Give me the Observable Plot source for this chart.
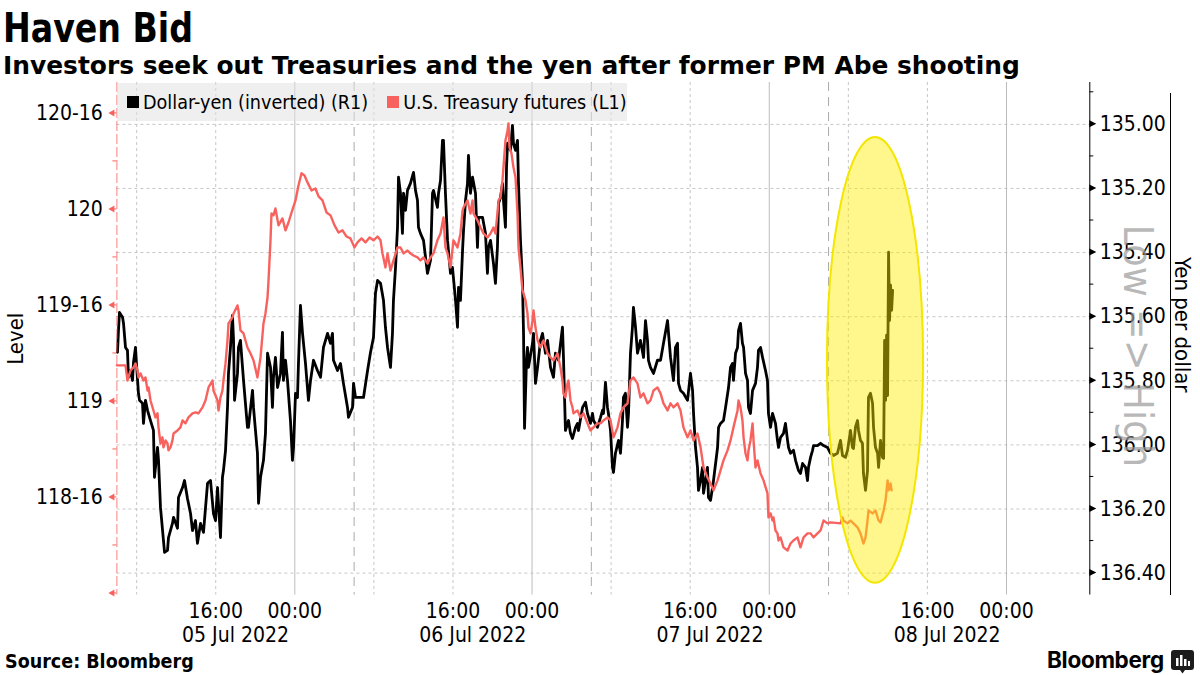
<!DOCTYPE html>
<html>
<head>
<meta charset="utf-8">
<script src="https://cdn.jsdelivr.net/npm/d3@7"></script>
<script src="https://cdn.jsdelivr.net/npm/@observablehq/plot@0.6"></script>
<style>
  html, body { margin: 0; padding: 0; background: #fff; }
  body { width: 1200px; height: 675px; overflow: hidden; position: relative;
         font-family: "DejaVu Sans Condensed", "DejaVu Sans", sans-serif; color: #000; }
  #title { position: absolute; left: 3px; top: 6px; font-weight: bold; font-size: 41px; line-height: 44px;
           transform: scaleX(0.9); transform-origin: left top;
           font-family: "DejaVu Sans Condensed", "DejaVu Sans", sans-serif; white-space: nowrap; }
  #subtitle { position: absolute; left: 3px; top: 52px; font-weight: bold; font-size: 24.9px; line-height: 28px;
              font-family: "DejaVu Sans", sans-serif; white-space: nowrap; }
  #chart { position: absolute; left: 0; top: 78px; }
  #legend { position: absolute; left: 117px; top: 83px; width: 510px; height: 38px; background: rgba(225,225,225,0.55);
            display: flex; align-items: center; font-size: 19.6px; white-space: nowrap; }
  #legend .sw { display: inline-block; width: 12px; height: 12px; margin-right: 4px; }
  #legend .item { display: flex; align-items: center; margin-left: 10px; margin-right: 9px; }
  #source { position: absolute; left: 5px; top: 651px; font-weight: bold; font-size: 19.5px; line-height: 22px; }
  #logo { position: absolute; left: 1047px; top: 645px; font-family: Inter, Roboto, sans-serif; font-weight: 700;
          font-size: 22.5px; line-height: 30px; letter-spacing: -0.3px; }
  #logoicon { position: absolute; left: 1171px; top: 650px; }
</style>
</head>
<body>
<div id="title">Haven Bid</div>
<div id="subtitle">Investors seek out Treasuries and the yen after former PM Abe shooting</div>
<div id="chart"></div>
<div id="legend"></div>
<div id="source">Source: Bloomberg</div>
<div id="logo">Bloomberg</div>
<svg id="logoicon" width="23" height="24" viewBox="0 0 23 24">
  <path d="M3,0h17a3,3 0 0 1 3,3v14a3,3 0 0 1 -3,3h-6l-2.5,3.5l-2.5,-3.5h-6a3,3 0 0 1 -3,-3v-14a3,3 0 0 1 3,-3z" fill="#1c1c1c"/>
  <rect x="5" y="8" width="2.5" height="8" fill="#fff"/>
  <rect x="9" y="5" width="2.5" height="11" fill="#fff"/>
  <rect x="13" y="9" width="2.5" height="7" fill="#fff"/>
  <rect x="17" y="11" width="2" height="5" fill="#fff"/>
</svg>
<script>
// ---------------- DATA ----------------
// times are hours since 05 Jul 2022 00:00 (chart's local time)
const seriesNames = ["Dollar-yen (inverted) (R1)", "U.S. Treasury futures (L1)"];
const seriesColors = ["#000000", "#f8625e"];

// Dollar-yen, yen per dollar  [hour, value]
const yenSeries = [[6.06,135.711],[6.16,135.643],[6.26,135.587],[6.57,135.602],[6.67,135.621],[6.87,135.696],[7.07,135.705],[7.17,135.789],[7.38,135.768],[7.58,135.799],[7.68,135.743],[7.88,135.696],[7.98,135.746],[8.18,135.839],[8.29,135.861],[8.59,135.870],[8.69,135.933],[8.89,135.861],[9.10,135.892],[9.40,135.924],[9.70,135.955],[9.80,136.101],[10.11,136.008],[10.21,136.048],[10.41,136.195],[10.71,136.298],[10.82,136.335],[11.12,136.329],[11.22,136.289],[11.62,136.245],[11.73,136.226],[12.13,136.260],[12.23,136.164],[12.64,136.133],[12.84,136.111],[13.14,136.167],[13.45,136.214],[13.65,136.267],[13.95,136.236],[14.15,136.307],[14.46,136.245],[14.76,136.273],[15.17,136.120],[15.47,136.111],[15.77,136.214],[15.98,136.236],[16.18,136.133],[16.48,136.289],[16.68,136.101],[16.78,136.080],[16.99,136.017],[17.19,135.883],[17.29,135.777],[17.49,135.696],[17.69,135.596],[17.80,135.674],[17.90,135.861],[18.20,135.777],[18.30,135.696],[18.50,135.674],[18.71,135.758],[18.81,135.799],[19.21,135.945],[19.31,135.945],[19.72,135.830],[19.82,135.883],[20.02,135.955],[20.22,136.026],[20.33,136.182],[20.53,136.101],[20.83,136.048],[21.03,135.964],[21.24,135.714],[21.54,135.758],[21.74,135.883],[21.84,135.789],[22.04,135.727],[22.25,135.821],[22.55,135.777],[22.75,135.649],[22.85,135.799],[23.06,135.736],[23.26,135.799],[23.56,135.924],[23.76,136.048],[23.87,136.008],[24.07,135.839],[24.27,135.852],[24.37,135.746],[24.57,135.565],[24.78,135.652],[25.08,135.746],[25.38,135.861],[25.59,135.799],[25.89,135.736],[26.29,135.768],[26.60,135.789],[26.90,135.696],[27.31,135.652],[27.61,135.683],[27.81,135.652],[27.91,135.736],[28.32,135.768],[28.62,135.746],[28.92,135.808],[29.33,135.883],[29.43,135.914],[29.84,135.883],[29.94,135.808],[30.14,135.852],[30.95,135.852],[31.36,135.768],[31.66,135.711],[31.96,135.665],[32.16,135.527],[32.37,135.487],[32.67,135.496],[32.97,135.549],[33.17,135.633],[33.38,135.696],[33.68,135.758],[33.88,135.652],[33.98,135.549],[34.19,135.446],[34.39,135.321],[34.49,135.165],[34.69,135.215],[34.89,135.340],[35.00,135.215],[35.20,135.268],[35.40,135.206],[35.70,135.184],[36.01,135.150],[36.21,135.206],[36.41,135.237],[36.51,135.321],[36.71,135.340],[37.02,135.362],[37.42,135.465],[37.73,135.424],[37.93,135.215],[38.03,135.206],[38.43,135.259],[38.54,135.215],[38.74,135.175],[38.94,135.050],[39.04,135.050],[39.24,135.215],[39.45,135.362],[39.75,135.465],[39.95,135.446],[40.26,135.549],[40.46,135.633],[40.56,135.509],[40.76,135.549],[40.97,135.393],[41.07,135.331],[41.27,135.237],[41.47,135.184],[41.57,135.097],[41.77,135.215],[41.98,135.165],[42.28,135.215],[42.48,135.384],[42.58,135.290],[42.99,135.290],[43.29,135.340],[43.49,135.465],[43.59,135.384],[43.80,135.362],[44.10,135.434],[44.30,135.496],[44.50,135.384],[44.61,135.246],[44.81,135.228],[45.01,135.184],[45.11,135.237],[45.31,135.321],[45.42,135.134],[45.52,135.059],[45.82,135.081],[46.02,135.003],[46.12,135.059],[46.33,135.081],[46.53,135.050],[46.63,135.184],[46.83,135.362],[47.03,135.487],[47.14,135.652],[47.24,135.948],[47.44,135.736],[47.54,135.696],[47.64,135.758],[48.05,135.683],[48.15,135.652],[48.35,135.808],[48.56,135.758],[48.86,135.674],[49.06,135.652],[49.16,135.674],[49.36,135.714],[49.57,135.674],[49.87,135.758],[50.17,135.789],[50.37,135.714],[50.68,135.736],[51.08,135.633],[51.18,135.727],[51.38,135.955],[51.69,135.924],[51.89,135.964],[52.09,135.980],[52.40,135.945],[52.60,135.933],[52.70,135.955],[53.11,135.883],[53.41,135.867],[53.61,135.902],[53.91,135.933],[54.12,135.902],[54.22,135.924],[54.62,135.945],[54.93,135.914],[55.13,135.892],[55.23,135.902],[55.43,135.805],[55.63,135.883],[55.73,135.902],[55.94,135.955],[56.14,136.070],[56.24,136.086],[56.44,136.026],[56.75,135.986],[56.95,136.026],[57.15,135.924],[57.25,135.852],[57.45,135.839],[57.66,135.945],[57.76,135.902],[57.96,135.714],[58.16,135.633],[58.26,135.571],[58.47,135.633],[58.67,135.714],[58.97,135.674],[59.28,135.727],[59.48,135.612],[59.68,135.674],[59.78,135.736],[59.98,135.758],[60.29,135.777],[60.69,135.736],[61.00,135.736],[61.30,135.683],[61.71,135.612],[61.81,135.652],[62.01,135.727],[62.31,135.799],[62.51,135.696],[62.72,135.683],[62.82,135.808],[63.02,135.830],[63.32,135.839],[63.73,135.861],[64.03,135.777],[64.24,135.830],[64.34,135.902],[64.54,136.008],[64.74,136.070],[64.84,136.142],[65.05,136.111],[65.25,136.070],[65.35,136.151],[65.55,136.111],[65.75,136.070],[65.85,136.164],[66.06,136.173],[66.26,136.133],[66.36,136.111],[66.77,136.008],[66.87,135.945],[67.07,135.933],[67.37,135.924],[67.58,135.883],[67.88,135.821],[68.08,135.758],[68.28,135.746],[68.38,135.799],[68.59,135.714],[68.79,135.696],[68.89,135.643],[69.09,135.621],[69.29,135.683],[69.40,135.696],[69.60,135.777],[69.80,135.799],[69.90,135.883],[70.10,135.902],[70.31,135.830],[70.61,135.808],[70.81,135.758],[70.91,135.705],[71.12,135.696],[71.32,135.727],[71.62,135.768],[71.82,135.799],[71.92,135.902],[72.13,135.945],[72.33,135.902],[72.63,135.933],[72.83,135.986],[72.94,136.008],[73.14,135.977],[73.44,135.964],[73.64,135.933],[73.85,135.986],[73.95,136.008],[74.15,136.026],[74.45,136.017],[74.66,136.048],[74.96,136.080],[75.16,136.089],[75.37,136.058],[75.67,136.070],[75.87,136.111],[75.97,136.070],[76.18,136.039],[76.38,136.017],[76.48,136.002],[76.88,136.002],[77.19,135.995],[77.49,136.002],[77.89,136.008],[78.20,136.026],[78.50,136.033],[78.90,136.026],[79.21,135.986],[79.41,136.033],[79.71,136.039],[79.92,136.017],[80.22,135.955],[80.42,136.008],[80.52,136.011],[80.72,135.945],[80.93,135.924],[81.03,135.955],[81.23,135.986],[81.43,135.995],[81.53,136.089],[81.74,136.142],[81.94,136.080],[82.04,135.852],[82.24,135.839],[82.45,135.870],[82.55,135.945],[82.75,136.008],[82.96,136.026],[83.06,136.070],[83.26,135.986],[83.46,136.039],[83.57,136.042],[83.67,135.674],[83.77,135.861],[83.87,135.658],[83.97,135.846],[84.07,135.399],[84.17,135.612],[84.27,135.502],[84.38,135.580],[84.48,135.518]];

// U.S. Treasury futures, price in points  [hour, value]
const tsySeries = [[6.00,119.188],[6.87,119.188],[7.07,119.109],[7.38,119.162],[7.68,119.177],[7.88,119.198],[8.08,119.162],[8.18,119.125],[8.39,119.146],[8.69,119.109],[8.89,119.125],[9.10,119.057],[9.20,119.073],[9.40,119.005],[9.70,118.953],[9.90,118.917],[10.11,118.938],[10.21,118.865],[10.41,118.781],[10.61,118.813],[10.71,118.761],[10.92,118.797],[11.12,118.781],[11.22,118.745],[11.42,118.761],[11.62,118.797],[11.73,118.833],[12.13,118.849],[12.43,118.865],[12.64,118.901],[12.94,118.886],[13.24,118.917],[13.65,118.938],[13.95,118.943],[14.25,118.938],[14.66,118.969],[14.96,119.005],[15.27,119.073],[15.67,119.109],[15.77,119.057],[16.18,119.005],[16.28,118.953],[16.48,119.021],[16.68,119.057],[16.78,119.109],[16.99,119.198],[17.19,119.318],[17.29,119.406],[17.69,119.438],[17.80,119.458],[18.20,119.500],[18.30,119.474],[18.50,119.370],[18.81,119.354],[19.21,119.281],[19.52,119.250],[19.82,119.214],[20.22,119.125],[20.53,119.229],[20.83,119.406],[21.03,119.458],[21.24,119.542],[21.34,119.630],[21.54,119.839],[21.64,119.979],[21.84,119.969],[22.04,120.005],[22.35,119.917],[22.75,119.953],[23.06,119.891],[23.36,119.932],[23.67,119.984],[24.07,120.047],[24.37,120.125],[24.68,120.188],[24.98,120.177],[25.28,120.141],[25.69,120.099],[26.09,120.109],[26.40,120.068],[26.80,120.047],[27.21,119.984],[27.61,119.969],[28.02,119.917],[28.42,119.880],[28.82,119.891],[29.23,119.859],[29.63,119.849],[30.04,119.802],[30.34,119.828],[30.75,119.849],[31.15,119.828],[31.56,119.854],[31.96,119.839],[32.37,119.859],[32.67,119.839],[32.87,119.771],[33.17,119.698],[33.38,119.771],[33.68,119.682],[33.98,119.734],[34.39,119.802],[34.69,119.802],[35.00,119.771],[35.40,119.786],[35.70,119.771],[36.01,119.760],[36.41,119.750],[36.71,119.734],[37.02,119.750],[37.42,119.719],[37.73,119.750],[38.03,119.771],[38.43,119.839],[38.74,119.875],[39.04,119.958],[39.24,119.802],[39.45,119.771],[39.75,119.698],[40.05,119.839],[40.46,119.802],[40.76,119.875],[40.97,119.995],[41.07,120.010],[41.47,120.047],[41.77,119.979],[41.98,120.047],[42.08,119.979],[42.48,119.943],[42.79,119.906],[43.09,119.875],[43.49,119.854],[43.80,119.875],[44.10,119.906],[44.30,119.875],[44.50,119.979],[44.61,120.047],[44.81,120.063],[45.01,120.151],[45.11,120.219],[45.31,120.359],[45.52,120.411],[45.62,120.448],[45.72,120.323],[45.92,120.292],[46.12,120.219],[46.33,120.167],[46.53,119.979],[46.63,119.802],[46.83,119.698],[47.03,119.578],[47.14,119.563],[47.34,119.526],[47.54,119.458],[47.64,119.385],[47.85,119.354],[48.05,119.422],[48.15,119.474],[48.35,119.385],[48.56,119.318],[48.86,119.281],[49.16,119.318],[49.57,119.250],[49.87,119.229],[50.17,119.214],[50.58,119.250],[50.88,119.177],[51.08,119.109],[51.18,119.042],[51.38,119.021],[51.59,119.094],[51.69,119.109],[51.89,119.005],[52.09,118.969],[52.19,118.938],[52.60,118.953],[52.90,118.917],[53.21,118.938],[53.61,118.886],[53.91,118.849],[54.22,118.865],[54.62,118.886],[54.93,118.886],[55.23,118.901],[55.63,118.917],[55.94,118.901],[56.24,118.813],[56.65,118.865],[56.95,118.938],[57.25,118.969],[57.66,118.990],[57.96,119.109],[58.26,119.125],[58.67,119.094],[58.97,119.021],[59.28,119.042],[59.68,118.990],[59.98,119.005],[60.29,119.057],[60.69,119.073],[61.00,119.042],[61.30,118.990],[61.71,118.953],[62.01,118.990],[62.31,118.969],[62.72,118.990],[63.02,118.953],[63.32,118.865],[63.73,118.813],[64.03,118.849],[64.34,118.797],[64.74,118.833],[65.05,118.761],[65.35,118.656],[65.75,118.604],[66.06,118.573],[66.36,118.537],[66.77,118.589],[67.07,118.641],[67.37,118.693],[67.78,118.745],[68.08,118.797],[68.38,118.865],[68.79,118.953],[68.89,119.005],[69.09,118.969],[69.29,118.901],[69.40,118.813],[69.60,118.729],[69.80,118.693],[69.90,118.745],[70.10,118.797],[70.31,118.886],[70.41,118.797],[70.61,118.656],[70.81,118.693],[71.12,118.625],[71.42,118.589],[71.82,118.521],[71.92,118.396],[72.13,118.417],[72.33,118.380],[72.43,118.396],[72.63,118.328],[72.83,118.313],[72.94,118.276],[73.14,118.292],[73.44,118.240],[73.85,118.224],[74.15,118.260],[74.45,118.276],[74.86,118.292],[75.16,118.240],[75.47,118.292],[75.87,118.313],[76.18,118.313],[76.48,118.292],[76.88,118.313],[77.19,118.328],[77.49,118.380],[77.89,118.365],[78.20,118.370],[79.21,118.365],[79.41,118.396],[79.51,118.380],[79.92,118.365],[80.22,118.380],[80.52,118.365],[80.93,118.344],[81.23,118.313],[81.53,118.260],[81.74,118.292],[81.94,118.380],[82.04,118.432],[82.45,118.417],[82.75,118.432],[83.06,118.380],[83.26,118.370],[83.57,118.432],[83.77,118.484],[83.97,118.589],[84.07,118.537],[84.27,118.573],[84.38,118.537]];

// axis ticks
const leftTickLabels = [120.5, 120, 119.5, 119, 118.5];      // labelled (32nds)
const leftTickMarks = [120.5, 120, 119.5, 119, 118.5, 118];  // arrow marks
const leftMinor = [120.25, 119.75, 119.25, 118.75, 118.25];
const yenTicks = [135.0, 135.2, 135.4, 135.6, 135.8, 136.0, 136.2, 136.4];
const yenMinor = [134.9, 135.1, 135.3, 135.5, 135.7, 135.9, 136.1, 136.3];
const timeTickHours = [16, 24, 40, 48, 64, 72, 88, 96];   // 16:00 / 00:00
const dateTickHours = [18, 42, 66, 90];                    // 05..08 Jul 2022
const gridMidnight = [24, 48, 72, 96];
const gridDotted = [8, 16, 32, 40, 56, 64, 80, 88];
const gridSession = [30, 54, 78];
const xRangeHours = [6, 104.43];
const yDomain = [117.992, 120.661];
// dual axis correspondence: yen (R1, inverted) <-> level (L1)
const YEN_AT = [135.0, 136.4];
const LEVEL_AT = [120.443, 118.106];
// highlight ellipse (hour, level, half-width in hours, half-height in level)
const highlight = { h: 82.75, level: 119.214, rh: 4.86, rl: 1.161 };

// ---------------- CHART ----------------
const FONT = '"DejaVu Sans Condensed", "DejaVu Sans", sans-serif';
const RED = seriesColors[1];
const T0 = Date.UTC(2022, 6, 5);
const at = h => new Date(T0 + h * 3600e3);
const yenToLevel = v => LEVEL_AT[0] + (v - YEN_AT[0]) * (LEVEL_AT[1] - LEVEL_AT[0]) / (YEN_AT[1] - YEN_AT[0]);
const levelToYen = l => YEN_AT[0] + (l - LEVEL_AT[0]) * (YEN_AT[1] - YEN_AT[0]) / (LEVEL_AT[1] - LEVEL_AT[0]);
const fmt32 = v => { const i = Math.floor(v + 1e-9); const f = Math.round((v - i) * 32); return f ? `${i}-${String(f).padStart(2, "0")}` : `${i}`; };
const xDomain = xRangeHours.map(at);

const plot = Plot.plot({
  width: 1200, height: 570,
  marginTop: 4, marginBottom: 53.5, marginLeft: 116.4, marginRight: 110.7,
  style: { fontFamily: FONT, fontSize: "21px", color: "#000", background: "transparent", overflow: "visible" },
  x: { type: "utc", domain: xDomain, axis: null },
  y: { domain: yDomain, axis: null },
  marks: [
    Plot.ruleY(yenTicks.map(yenToLevel), { stroke: "#c6c6c6", strokeDasharray: "3,3" }),
    Plot.ruleX(gridDotted.map(at), { stroke: "#c6c6c6", strokeDasharray: "3,3" }),
    Plot.ruleX(gridMidnight.map(at), { stroke: "#bcbcbc" }),
    Plot.ruleX(gridSession.map(at), { stroke: "#a9a9a9", strokeDasharray: "9,6" }),
    Plot.line(yenSeries, { x: d => at(d[0]), y: d => yenToLevel(d[1]), stroke: seriesColors[0], strokeWidth: 2.8 }),
    Plot.line(tsySeries, { x: d => at(d[0]), y: d => d[1], stroke: RED, strokeWidth: 2.4 }),
    Plot.ruleX([xDomain[0]], { stroke: RED, strokeOpacity: 0.8, strokeDasharray: "10,3" }),
    Plot.ruleX([xDomain[1]], { stroke: "#000" }),
    Plot.axisY(leftTickLabels, { anchor: "left", tickSize: 0, tickPadding: 14, tickFormat: fmt32, label: null, fontSize: 21 }),
    Plot.axisY(yenTicks.map(yenToLevel), { anchor: "right", tickSize: 0, tickPadding: 10, tickFormat: d => levelToYen(d).toFixed(2), label: null, fontSize: 21 }),
    Plot.axisX(timeTickHours.map(at), { anchor: "bottom", tickSize: 0, tickPadding: 8, tickFormat: d3.utcFormat("%H:%M"), label: null, fontSize: 21 }),
    Plot.axisX(dateTickHours.map(at), { anchor: "bottom", tickSize: 0, tickPadding: 32, tickFormat: d3.utcFormat("%d %b %Y"), label: null, fontSize: 21 }),
    Plot.text(["Level"], { frameAnchor: "left", textAnchor: "middle", dx: -101, dy: 0, rotate: -90, fontSize: 22 }),
    Plot.text(["Yen per dollar"], { frameAnchor: "right", textAnchor: "middle", dx: 92, dy: -14, rotate: 90, fontSize: 22 }),
    Plot.text(["Low => High"], { frameAnchor: "right", textAnchor: "middle", dx: 47, dy: 7, rotate: 90, fontSize: 41, fill: "#999", fillOpacity: 0.7 })
  ]
});
document.getElementById("chart").appendChild(plot);

// decorations using the plot's own scales
const xs = plot.scale("x"), ys = plot.scale("y");
const svg = d3.select(plot);
const g = svg.append("g");
const xL = xs.apply(xDomain[0]), xR = xs.apply(xDomain[1]);
leftTickMarks.forEach(v => {
  const py = ys.apply(v);
  g.append("path").attr("d", `M${xL - 2},${py - 3.5}L${xL - 8},${py}L${xL - 2},${py + 3.5}Z`).attr("fill", RED);
  g.append("line").attr("x1", xL - 4).attr("x2", xL).attr("y1", py).attr("y2", py).attr("stroke", RED);
});
leftMinor.forEach(v => {
  const py = ys.apply(v);
  g.append("line").attr("x1", xL - 4).attr("x2", xL).attr("y1", py).attr("y2", py).attr("stroke", RED);
});
yenTicks.forEach(v => {
  const py = ys.apply(yenToLevel(v));
  g.append("path").attr("d", `M${xR},${py - 3.5}L${xR + 7},${py}L${xR},${py + 3.5}Z`).attr("fill", "#000");
});
yenMinor.forEach(v => {
  const py = ys.apply(yenToLevel(v));
  g.append("line").attr("x1", xR).attr("x2", xR + 4).attr("y1", py).attr("y2", py).attr("stroke", "#000");
});
// bracket line beside "Yen per dollar"
g.append("line").attr("x1", 1170.5).attr("x2", 1170.5).attr("y1", 15).attr("y2", 517).attr("stroke", "#000");
// highlight ellipse
const cx = xs.apply(at(highlight.h));
const rx = xs.apply(at(highlight.h + highlight.rh)) - cx;
const cy = ys.apply(highlight.level);
const ry = ys.apply(highlight.level - highlight.rl) - cy;
g.append("ellipse").attr("cx", cx).attr("cy", cy).attr("rx", rx).attr("ry", ry)
  .attr("fill", "#ffee00").attr("fill-opacity", 0.45).attr("stroke", "#f3e600").attr("stroke-width", 2);

// legend
const legend = d3.select("#legend");
seriesNames.forEach((name, i) => {
  const item = legend.append("span").attr("class", "item");
  item.append("span").attr("class", "sw").style("background", seriesColors[i]);
  item.append("span").text(name);
});
</script>
</body>
</html>
